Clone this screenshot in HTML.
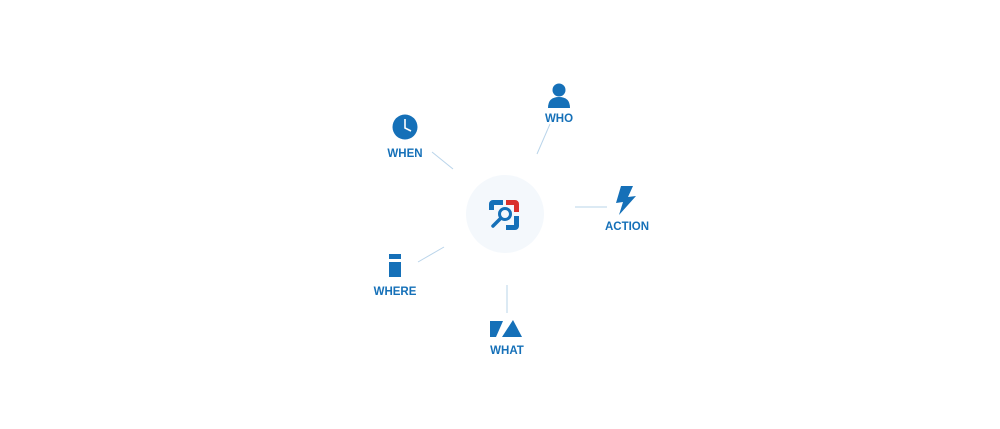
<!DOCTYPE html>
<html><head><meta charset="utf-8"><style>
html,body{margin:0;padding:0;background:#fff;width:1000px;height:429px;overflow:hidden}
text{font-family:"Liberation Sans",sans-serif;font-weight:bold;font-size:11.5px;fill:#1570b8}
</style></head><body>
<svg width="1000" height="429" viewBox="0 0 1000 429">
<g stroke="#b9d4ea" stroke-width="1" fill="none">
<line x1="432" y1="152" x2="453" y2="169"/>
<line x1="550" y1="124" x2="537" y2="154"/>
<line x1="575" y1="207" x2="607" y2="207"/>
<line x1="418" y1="262" x2="444" y2="247"/>
<line x1="507" y1="285" x2="507" y2="313"/>
</g>
<circle cx="505" cy="214" r="39" fill="#f4f8fc"/>
<!-- center logo -->
<path d="M489 210 V204 a4 4 0 0 1 4 -4 H503 V205 H494 V210 Z" fill="#1570b8"/>
<path d="M506 200 H515 a4 4 0 0 1 4 4 V212 H514 V205 H506 Z" fill="#d9312b"/>
<path d="M519 216 V226 a4 4 0 0 1 -4 4 H506 V225 H514 V216 Z" fill="#1570b8"/>
<circle cx="505" cy="214" r="5.5" fill="none" stroke="#1570b8" stroke-width="3"/>
<line x1="500" y1="219" x2="493" y2="226" stroke="#1570b8" stroke-width="3.5" stroke-linecap="round"/>
<!-- WHEN clock -->
<circle cx="405" cy="127" r="12.5" fill="#1570b8"/>
<path d="M405 119 V128 L411 131" stroke="#fff" stroke-width="1.6" fill="none"/>
<text x="405" y="157" text-anchor="middle">WHEN</text>
<!-- WHO person -->
<circle cx="559" cy="90" r="6.5" fill="#1570b8"/>
<path d="M548 108 Q548 97 559 97 Q570 97 570 108 Z" fill="#1570b8"/>
<text x="559" y="122" text-anchor="middle">WHO</text>
<!-- ACTION bolt -->
<path d="M621 186 L616 203 L623 202 L619 215 L636 196 L628 197 L633 186 Z" fill="#1570b8"/>
<text x="627" y="230" text-anchor="middle">ACTION</text>
<!-- WHERE -->
<rect x="389" y="254" width="12" height="5" fill="#1570b8"/>
<rect x="389" y="262" width="12" height="15" fill="#1570b8"/>
<text x="395" y="295" text-anchor="middle">WHERE</text>
<!-- WHAT -->
<path d="M490 321 H503 L496 337 H490 Z" fill="#1570b8"/>
<path d="M513 320 L522 337 H502 Z" fill="#1570b8"/>
<text x="507" y="354" text-anchor="middle">WHAT</text>
</svg>
</body></html>
